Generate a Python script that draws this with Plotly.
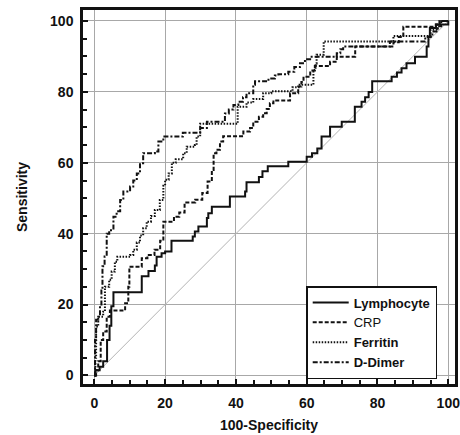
import plotly.graph_objects as go

# ---- data ----
lymph_fpr = [0, 0.3, 1.5, 2.5, 3.6, 4.3, 4.8, 5.4, 13.4, 15.3, 17.1, 17.6, 19.0, 20.0, 21.8, 27.8, 28.4, 29.4,
             31.8, 32.2, 33.2, 38.3, 42.6, 43.0, 46.5, 47.5, 49.0, 54.8, 60.0, 61.5, 63.0, 64.2, 66.6, 69.9,
             73.6, 75.5, 76.5, 77.5, 78.5, 84.0, 85.5, 86.8, 88.2, 90.6, 93.9, 94.4, 94.8, 96.5, 100]
lymph_tpr = [0, 1.5, 2.5, 4, 10, 14, 19.5, 23.5, 28, 29.5, 31, 33.5, 34.5, 35, 38, 39.2, 40.6, 42,
             44.4, 45.8, 47.6, 50.5, 51.9, 54.5, 56, 57.6, 59, 60.3, 61.7, 62.7, 64, 67.4, 70.2, 71.6,
             75.8, 77.2, 78.5, 80, 83, 84.3, 85.5, 86.7, 88.1, 89.9, 92.8, 95.6, 98, 99, 100]

crp_fpr = [0, 0.5, 1.1, 1.8, 2.5, 3.5, 4.4, 8.7, 9.6, 9.9, 13.4, 15.0, 17.0, 18.6, 19.5, 22.5, 24.0, 25.5,
           28.5, 30.5, 32.0, 33.2, 33.7, 34.5, 35.5, 36.4, 42.1, 44.0, 44.9, 46.5, 47.7, 48.7, 49.6, 50.6,
           55.3, 57.6, 58.5, 59.1, 61.0, 62.3, 66.6, 68.5, 73.7, 84.5, 86.0, 87.3, 96.5, 97.5, 100]
crp_tpr = [0, 1.5, 4, 10, 12.4, 16.6, 18.3, 20.4, 25, 30.7, 33.1, 34, 35.5, 38, 43.4, 44.8, 46, 48.8,
           49.6, 51.5, 54.7, 58, 62.7, 63.7, 66, 67.5, 68.8, 69.8, 71.6, 73, 74, 75.2, 76.8, 77.6,
           79.6, 81.5, 82.8, 84.3, 86, 87.3, 88.5, 89.9, 92.8, 94, 95.5, 98.4, 99, 100, 100]

ferr_fpr = [0, 0.3, 0.5, 1.1, 2.5, 3.0, 4.2, 4.9, 5.8, 6.5, 10.1, 11.0, 12.0, 12.9, 13.8, 14.8, 16.0, 17.1,
            18.5, 19.5, 20.0, 21.0, 21.9, 23.0, 25.1, 26.1, 28.4, 28.9, 29.9, 40.5, 43.0, 44.9, 47.7, 50.0,
            56.0, 58.0, 61.9, 62.5, 62.8, 64.8, 84.5, 95.0, 97.0, 98.0, 100]
ferr_tpr = [0, 5, 13.8, 16.6, 18, 25, 27, 29.3, 32.1, 33.5, 34, 35.5, 37.5, 39.5, 41.5, 43.4, 45, 46.7,
            49.5, 53.5, 55.2, 57, 60, 61, 62.7, 64.5, 65, 67.4, 71, 75.8, 77, 78, 79.6, 80.2,
            81.3, 82, 86.2, 88, 90.5, 94.2, 95.8, 97.5, 99, 100, 100]

ddim_fpr = [0, 0.2, 0.5, 1.1, 1.6, 2.0, 2.3, 2.9, 3.5, 4.2, 5.4, 6.3, 7.3, 8.2, 10.1, 11.0, 12.0, 12.9,
            13.8, 17.1, 18.1, 19.5, 25.0, 29.9, 31.8, 36.9, 38.0, 39.3, 40.7, 42.0, 43.0, 44.9, 45.4, 49.2,
            51.0, 52.0, 54.8, 56.5, 58.1, 59.5, 61.4, 68.5, 69.5, 70.3, 83.5, 93.5, 95.5, 97.0, 98.0, 100]
ddim_tpr = [0, 10, 15.7, 16.6, 20, 24, 30.8, 33.6, 40, 41, 44.8, 46.3, 49.5, 51.9, 53.3, 55, 57, 59.9,
            62.7, 63.2, 66, 67.4, 68.5, 69.8, 71.6, 73.9, 75, 76.3, 77.2, 78.5, 79.6, 82, 83, 83.8,
            84.6, 85, 85.7, 87, 88.1, 89.2, 89.9, 90.9, 92, 92.8, 94.2, 95.5, 97, 98.5, 100, 100]

ref_line = [0, 100]
tick_vals = [0, 20, 40, 60, 80, 100]
series_names = ["Lymphocyte", "CRP", "Ferritin", "D-Dimer"]

FONT = "Arial, Liberation Sans, sans-serif"

fig = go.Figure()

# diagonal reference
fig.add_trace(go.Scatter(x=ref_line, y=ref_line, mode="lines",
                         line=dict(color="#b4b4b4", width=1), showlegend=False, hoverinfo="skip"))

styles = [
    (lymph_fpr, lymph_tpr, "solid", 2.0, "<b>Lymphocyte</b>"),
    (crp_fpr, crp_tpr, "4px,2px", 2.0, "CRP"),
    (ferr_fpr, ferr_tpr, "1.5px,1.5px", 2.0, "<b>Ferritin</b>"),
    (ddim_fpr, ddim_tpr, "5px,2px,2px,2px", 2.0, "<b>D-Dimer</b>"),
]
for fx, fy, dash, w, name in styles:
    fig.add_trace(go.Scatter(x=fx, y=fy, mode="lines", name=name,
                             line=dict(color="#111111", width=w, dash=dash, shape="hv")))

axis_common = dict(
    tickvals=tick_vals, ticks="inside", ticklen=5, tickwidth=1.5, tickcolor="#111111",
    minor=dict(dtick=5, tick0=0, ticks="inside", ticklen=4, tickwidth=1.5, tickcolor="#111111", showgrid=False),
    showgrid=True, gridcolor="#a8a8a8", gridwidth=1, zeroline=False,
    showline=True, mirror=True, linecolor="#111111", linewidth=2.5,
    tickfont=dict(family=FONT, size=14, color="#111111", weight="bold"),
    automargin=False, ticklabeloverflow="allow",
)

fig.update_xaxes(range=[-3.2, 101.9], title=dict(text="<b>100-Specificity</b>", standoff=11,
                 font=dict(family=FONT, size=14, color="#111111")), ticklabelstandoff=4, **axis_common)
fig.update_yaxes(range=[-2.4, 103.1], title=dict(text="<b>Sensitivity</b>", standoff=20,
                 font=dict(family=FONT, size=14, color="#111111")), ticklabelstandoff=4, **axis_common)

fig.update_layout(
    width=460, height=435,
    margin=dict(l=83, r=5, t=10, b=51),
    plot_bgcolor="white", paper_bgcolor="white",
    legend=dict(x=0.6, y=0.262, xanchor="left", yanchor="top",
                bgcolor="white", bordercolor="#111111", borderwidth=1.5,
                font=dict(family=FONT, size=13, color="#111111"),
                itemwidth=36, tracegroupgap=0),
)

fig.write_html("out.html", config={"displayModeBar": False},
               post_script="document.body.style.margin='0';document.body.style.padding='0';")
